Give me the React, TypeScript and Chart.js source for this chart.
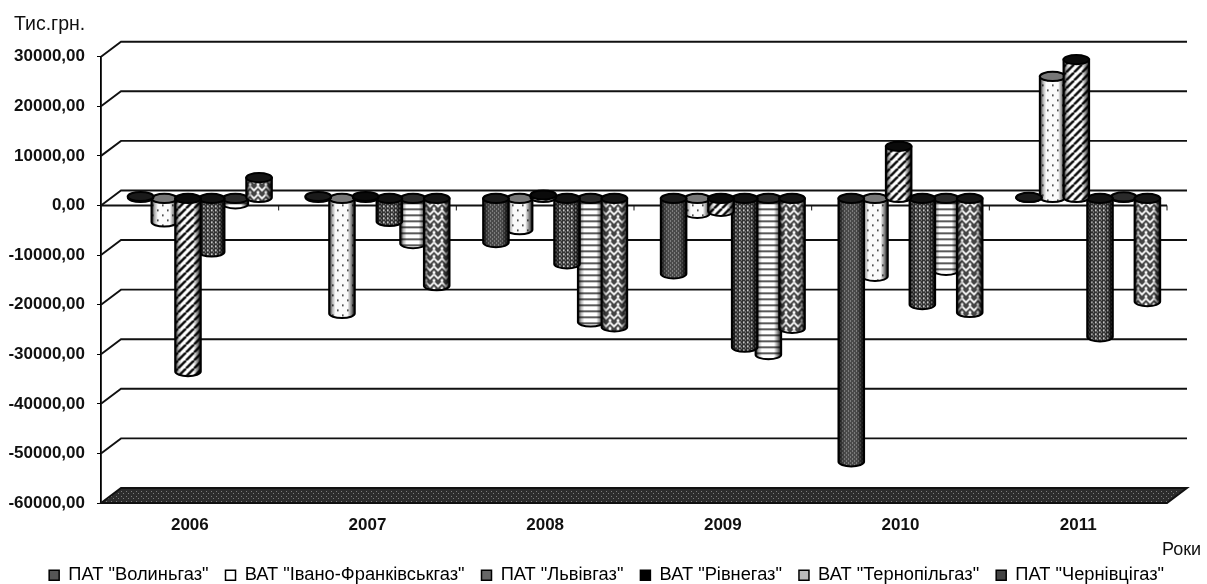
import React, { useEffect, useRef } from "react";
import { Chart, registerables } from "chart.js";

Chart.register(...registerables);

const years = ["2006", "2007", "2008", "2009", "2010", "2011"];
const seriesNames = [
  'ПАТ "Волиньгаз"',
  'ВАТ "Івано-Франківськгаз"',
  'ПАТ "Львівгаз"',
  'ВАТ "Рівнегаз"',
  'ВАТ "Тернопільгаз"',
  'ПАТ "Чернівцігаз"',
];
const volyn = [300, 300, -9000, -15300, -53200, 100];
const ivano = [-4850, -23300, -6400, -3100, -15800, 24500];
const lviv = [-35000, 300, 600, -2700, 10400, 27900];
const rivne = [-10900, -4750, -13300, -30100, -21500, -28000];
const ternopil = [-1200, -9200, -25000, -31600, -14600, 200];
const cherniv = [4100, -17700, -26000, -26300, -23100, -20900];
const seriesValues = [volyn, ivano, lviv, rivne, ternopil, cherniv];
const capColors = ["#1a1a1a", "#777", "#0a0a0a", "#111", "#2a2a2a", "#151515"];
const swatchColors = ["#555", "#fff", "#666", "#000", "#bbb", "#444"];
const drawOrder = [1, 4, 3, 0, 2, 5];

const FONT = '"Liberation Sans", Arial, sans-serif';
const DX = 20;
const DY = 15;

function makePattern(size: number, paint: (c: CanvasRenderingContext2D) => void) {
  const cv = document.createElement("canvas");
  cv.width = size;
  cv.height = size;
  const c = cv.getContext("2d")!;
  c.fillStyle = "#fff";
  c.fillRect(0, 0, size, size);
  paint(c);
  return c.createPattern(cv, "repeat")!;
}

function buildPatterns() {
  const dense = makePattern(4, (c) => {
    c.fillStyle = "#4a4a4a";
    c.fillRect(0, 0, 4, 4);
    c.fillStyle = "#b0b0b0";
    c.fillRect(0, 0, 1, 1);
    c.fillRect(2, 2, 1, 1);
  });
  const dots = makePattern(10, (c) => {
    c.fillStyle = "#fafafa";
    c.fillRect(0, 0, 10, 10);
    c.fillStyle = "#222";
    c.fillRect(2, 2, 1.6, 1.6);
    c.fillRect(7, 7, 1.6, 1.6);
  });
  const stripes = makePattern(8, (c) => {
    c.strokeStyle = "#111";
    c.lineWidth = 2.6;
    for (let i = -8; i <= 16; i += 8) {
      c.beginPath();
      c.moveTo(i, 8);
      c.lineTo(i + 8, 0);
      c.stroke();
    }
  });
  const knots = makePattern(4, (c) => {
    c.fillStyle = "#333";
    c.fillRect(0, 0, 4, 4);
    c.fillStyle = "#eee";
    c.fillRect(1, 1, 1.6, 1.6);
    c.fillStyle = "#aaa";
    c.fillRect(3, 3, 1, 1);
  });
  const lines = makePattern(6, (c) => {
    c.fillStyle = "#222";
    c.fillRect(0, 0, 6, 1.5);
  });
  const weave = makePattern(8, (c) => {
    c.fillStyle = "#444";
    c.fillRect(0, 0, 8, 8);
    c.strokeStyle = "#fafafa";
    c.lineWidth = 1.8;
    c.beginPath();
    c.moveTo(0, 2);
    c.lineTo(4, 6);
    c.lineTo(8, 2);
    c.moveTo(0, 7);
    c.lineTo(1, 8);
    c.moveTo(8, 7);
    c.lineTo(7, 8);
    c.moveTo(1, 0);
    c.lineTo(0, 1);
    c.moveTo(7, 0);
    c.lineTo(8, 1);
    c.stroke();
  });
  const floor = makePattern(5, (c) => {
    c.fillStyle = "#2c2c2c";
    c.fillRect(0, 0, 5, 5);
    c.fillStyle = "#7c7c7c";
    c.fillRect(1, 1, 1, 1);
    c.fillRect(3, 3, 1, 1);
  });
  return { series: [dense, dots, stripes, knots, lines, weave], floor };
}

function drawCylinder(
  ctx: CanvasRenderingContext2D,
  el: any,
  cap: string,
  fill: CanvasPattern
) {
  const { x, y, base, width } = el;
  const rx = width / 2;
  const ry = 4.6;
  const top = Math.min(y, base);
  const bottom = Math.max(y, base);
  const body = () => {
    ctx.beginPath();
    ctx.moveTo(x - rx, top);
    ctx.lineTo(x - rx, bottom);
    ctx.ellipse(x, bottom, rx, ry, 0, Math.PI, 0, true);
    ctx.lineTo(x + rx, top);
    ctx.closePath();
  };
  body();
  ctx.fillStyle = fill;
  ctx.fill();
  const g = ctx.createLinearGradient(x - rx, 0, x + rx, 0);
  g.addColorStop(0, "rgba(0,0,0,0.95)");
  g.addColorStop(0.12, "rgba(0,0,0,0.3)");
  g.addColorStop(0.25, "rgba(0,0,0,0)");
  g.addColorStop(0.72, "rgba(0,0,0,0)");
  g.addColorStop(0.88, "rgba(0,0,0,0.5)");
  g.addColorStop(1, "rgba(0,0,0,1)");
  body();
  ctx.fillStyle = g;
  ctx.fill();
  ctx.lineWidth = 2;
  ctx.strokeStyle = "#000";
  ctx.stroke();
  ctx.beginPath();
  ctx.ellipse(x, top, rx, ry, 0, 0, Math.PI * 2);
  ctx.fillStyle = cap;
  ctx.fill();
  ctx.stroke();
}

export default function App() {
  const ref = useRef<HTMLCanvasElement>(null);
  useEffect(() => {
    const patterns = buildPatterns();
    const wall = {
      id: "wall3d",
      afterLayout(chart: any) {
        chart.legend.left += 14;
        chart.legend.right += 14;
      },
      beforeDatasetsDraw(chart: any) {
        const { ctx, chartArea: a, scales } = chart;
        const y = scales.y;
        ctx.save();
        ctx.beginPath();
        ctx.moveTo(a.left, a.bottom);
        ctx.lineTo(a.left + DX, a.bottom - DY);
        ctx.lineTo(a.right + DX, a.bottom - DY);
        ctx.lineTo(a.right, a.bottom);
        ctx.closePath();
        ctx.fillStyle = patterns.floor;
        ctx.fill();
        ctx.strokeStyle = "#111";
        ctx.lineWidth = 1.9;
        ctx.stroke();
        y.ticks.forEach((t: any) => {
          const py = y.getPixelForValue(t.value);
          if (t.value === y.min) return;
          ctx.beginPath();
          ctx.moveTo(a.left, py);
          ctx.lineTo(a.left + DX, py - DY);
          ctx.lineTo(a.right + DX, py - DY);
          ctx.stroke();
        });
        const zero = y.getPixelForValue(0);
        ctx.beginPath();
        ctx.moveTo(a.left, zero);
        ctx.lineTo(a.right, zero);
        ctx.stroke();
        const step = (a.right - a.left) / years.length;
        ctx.lineWidth = 1;
        for (let i = 0; i <= years.length; i++) {
          const tx = a.left + i * step;
          ctx.beginPath();
          ctx.moveTo(tx, zero);
          ctx.lineTo(tx, zero + 5);
          ctx.stroke();
        }
        ctx.restore();
      },
      beforeDatasetDraw() {
        return false;
      },
      afterDatasetsDraw(chart: any) {
        const { ctx } = chart;
        ctx.save();
        ctx.translate(DX / 2, -DY / 2);
        years.forEach((_: string, c: number) => {
          drawOrder.forEach((i: number) => {
            const el = chart.getDatasetMeta(i).data[c];
            drawCylinder(ctx, el, capColors[i], patterns.series[i]);
          });
        });
        ctx.restore();
      },
      afterDraw(chart: any) {
        const { ctx } = chart;
        ctx.save();
        ctx.fillStyle = "#111";
        ctx.textBaseline = "middle";
        ctx.textAlign = "left";
        ctx.font = `19.5px ${FONT}`;
        ctx.fillText("Тис.грн.", 14, 25);
        ctx.font = `18px ${FONT}`;
        ctx.fillText("Роки", 1162, 550);
        ctx.restore();
      },
    };

    const chart = new Chart(ref.current!, {
      type: "bar",
      data: {
        labels: years,
        datasets: seriesNames.map((name, i) => ({
          label: name,
          data: seriesValues[i],
          backgroundColor: patterns.series[i],
          categoryPercentage: 0.8,
          barPercentage: 1.08,
        })),
      },
      options: {
        responsive: false,
        animation: false,
        layout: { autoPadding: false, padding: { left: 0, right: 40, top: 56.7, bottom: -10.3 } },
        plugins: {
          tooltip: { enabled: false },
          legend: {
            position: "bottom",
            align: "end",
            labels: {
              color: "#111",
              font: { family: FONT, size: 18.3 },
              boxWidth: 10,
              boxHeight: 10,
              padding: 17,
              generateLabels: () =>
                seriesNames.map((name, i) => ({
                  text: name,
                  fillStyle: swatchColors[i],
                  strokeStyle: "#000",
                  lineWidth: 1.5,
                  datasetIndex: i,
                })),
            },
          },
        },
        scales: {
          x: {
            grid: { display: false },
            border: { display: false },
            ticks: { color: "#111", font: { family: FONT, size: 17, weight: "bold" }, padding: 4, maxRotation: 0 },
            afterFit: (s: any) => {
              s.height = 46;
            },
          },
          y: {
            min: -60000,
            max: 30000,
            afterFit: (s: any) => {
              s.width = 101;
            },
            grid: { drawOnChartArea: false, color: "#000", tickLength: 4 },
            border: { color: "#000", width: 1.8 },
            ticks: {
              stepSize: 10000,
              padding: 12,
              color: "#111",
              font: { family: FONT, size: 17, weight: "bold" },
              callback: (v: any) => `${Number(v)},00`,
            },
          },
        },
      },
      plugins: [wall],
    } as any);
    return () => chart.destroy();
  }, []);

  return (
    <div style={{ position: "absolute", left: 0, top: 0, width: 1207, height: 584, background: "#fff" }}>
      <canvas ref={ref} width={1207} height={584} style={{ display: "block" }} />
    </div>
  );
}
